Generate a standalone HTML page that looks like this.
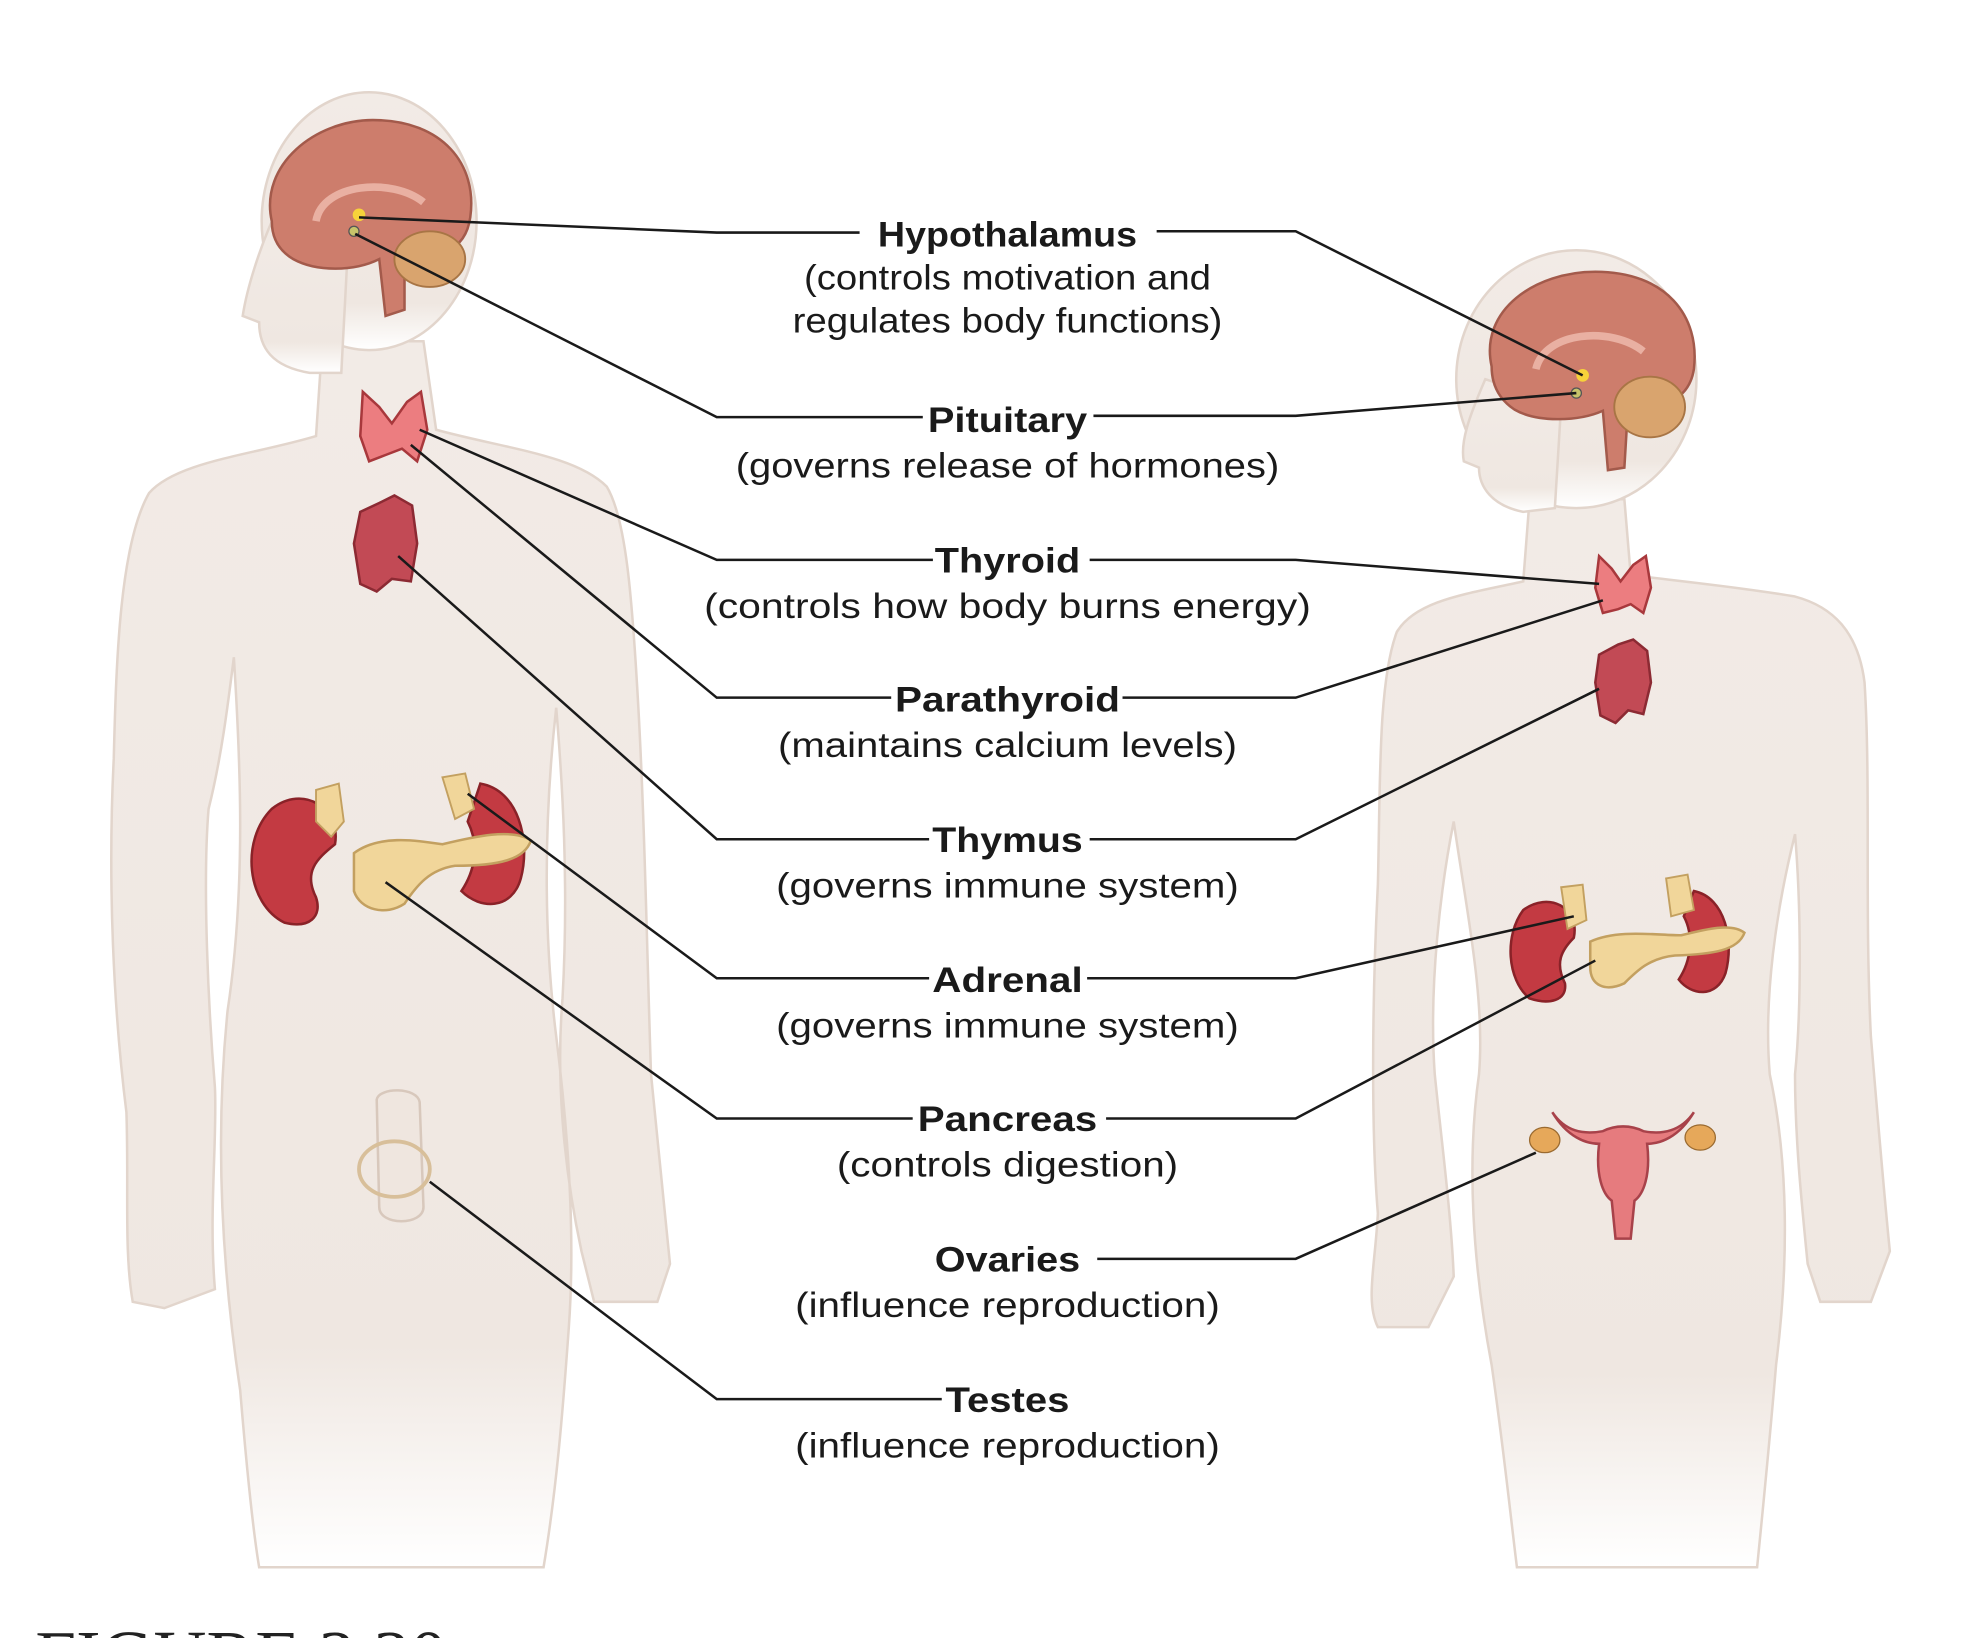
<!DOCTYPE html>
<html><head><meta charset="utf-8"><style>
html,body{margin:0;padding:0;background:#fff;width:1972px;height:1638px;overflow:hidden}
svg{display:block}
.b{font-family:"Liberation Sans",sans-serif;font-weight:bold;font-size:28px;fill:#1a1a1a}
.r{font-family:"Liberation Sans",sans-serif;font-size:28px;fill:#1a1a1a}
</style></head><body>
<svg width="1972" height="1638" viewBox="0 0 1560 1296" preserveAspectRatio="none" xmlns="http://www.w3.org/2000/svg">
<defs>
<linearGradient id="fade" x1="0" y1="0" x2="0" y2="1">
<stop offset="0" stop-color="#f2ebe6"/><stop offset="0.82" stop-color="#efe7e1"/><stop offset="1" stop-color="#ffffff"/>
</linearGradient>
</defs>
<g fill="url(#fade)" stroke="#e2d5cc" stroke-width="2">
<path d="M255,270 L250,345 C200,360 140,365 118,390 C95,430 92,520 90,600 C85,700 90,800 100,880 C102,940 98,990 105,1030 L130,1035 L170,1020 C165,960 172,900 170,860 C165,800 160,700 165,640 C175,600 180,560 185,520 C190,600 195,700 180,800 C170,900 175,1000 190,1100 C195,1160 200,1210 205,1240 L430,1240 C440,1180 445,1120 450,1050 C455,980 450,900 440,820 C430,740 430,650 440,560 C445,620 450,700 445,790 C440,850 445,920 460,990 L470,1030 L520,1030 L530,1000 C525,950 520,900 515,850 C512,760 510,650 505,560 C500,470 495,410 480,385 C455,360 400,355 345,340 L335,270 Z"/>
<ellipse cx="292" cy="175" rx="85" ry="102"/>
<path d="M222,160 C205,195 195,230 192,250 L205,255 C205,275 215,290 245,295 L270,295 L275,200 Z"/>
</g>
<g fill="url(#fade)" stroke="#e2d5cc" stroke-width="2">
<path d="M1210,395 L1205,460 C1160,470 1120,475 1105,500 C1090,540 1092,620 1090,700 C1085,800 1085,900 1090,960 C1088,1000 1080,1030 1090,1050 L1130,1050 L1150,1010 C1148,960 1140,900 1135,850 C1130,780 1140,700 1150,650 C1160,720 1175,790 1170,850 C1160,920 1165,1000 1180,1080 C1190,1150 1195,1200 1200,1240 L1390,1240 C1395,1190 1400,1140 1405,1080 C1415,1000 1415,920 1400,850 C1395,790 1405,720 1420,660 C1425,720 1425,800 1420,850 C1420,900 1425,950 1430,1000 L1440,1030 L1480,1030 L1495,990 C1490,940 1485,880 1480,820 C1475,720 1480,620 1475,540 C1470,500 1450,480 1420,472 C1380,465 1330,460 1290,455 L1285,395 Z"/>
<ellipse cx="1247" cy="300" rx="95" ry="102"/>
<path d="M1175,300 C1162,330 1155,350 1158,365 L1170,370 C1170,385 1180,400 1205,405 L1230,402 L1235,320 Z"/>
</g>
<path d="M215,175 C205,130 250,95 295,95 C350,95 378,130 372,172 C368,200 345,205 320,200 L320,245 L305,250 L300,205 C280,215 250,215 232,205 C220,198 215,188 215,175 Z" fill="#cd7d6c" stroke="#a35a4b" stroke-width="2"/>
<ellipse cx="340" cy="205" rx="28" ry="22" fill="#d9a46e" stroke="#a87545" stroke-width="1.5"/>
<path d="M250,175 C255,145 310,140 335,160" fill="none" stroke="#e9b0a2" stroke-width="6"/>
<circle cx="284" cy="170" r="5" fill="#f7d23a"/>
<circle cx="280" cy="183" r="4" fill="#c7c36a" stroke="#555" stroke-width="1"/>
<path d="M1180,290 C1170,245 1215,215 1262,215 C1318,215 1345,250 1340,292 C1336,318 1312,325 1288,320 L1285,370 L1272,372 L1268,325 C1248,334 1215,334 1198,324 C1186,316 1180,305 1180,290 Z" fill="#cd7d6c" stroke="#a35a4b" stroke-width="2"/>
<ellipse cx="1305" cy="322" rx="28" ry="24" fill="#d9a46e" stroke="#a87545" stroke-width="1.5"/>
<path d="M1215,292 C1222,262 1275,258 1300,278" fill="none" stroke="#e9b0a2" stroke-width="6"/>
<circle cx="1252" cy="297" r="5" fill="#f7d23a"/>
<circle cx="1247" cy="311" r="4" fill="#c7c36a" stroke="#555" stroke-width="1"/>
<path d="M287,310 L300,322 L310,335 L322,318 L333,310 L338,340 L330,365 L318,355 L305,360 L292,365 L285,345 Z" fill="#ec7d80" stroke="#a8383c" stroke-width="2"/>
<path d="M1265,440 L1275,450 L1282,460 L1292,447 L1302,440 L1306,465 L1300,485 L1290,478 L1280,482 L1268,485 L1262,465 Z" fill="#ec7d80" stroke="#a8383c" stroke-width="2"/>
<path d="M285,405 L300,398 L312,392 L326,400 L330,430 L325,460 L310,458 L298,468 L285,462 L280,430 Z" fill="#c24a55" stroke="#8c2a33" stroke-width="2"/>
<path d="M1265,518 L1280,510 L1292,506 L1303,515 L1306,540 L1300,565 L1288,562 L1278,572 L1266,566 L1262,540 Z" fill="#c24a55" stroke="#8c2a33" stroke-width="2"/>
<path d="M215,640 C240,620 270,640 265,668 C250,680 240,690 250,710 C255,725 245,735 225,730 C195,715 190,665 215,640 Z" fill="#c33a42" stroke="#8a2228" stroke-width="2"/>
<path d="M380,620 C410,625 420,665 412,695 C405,720 380,720 365,705 C375,690 380,670 370,650 Z" fill="#c33a42" stroke="#8a2228" stroke-width="2"/>
<path d="M250,625 L268,620 L272,650 L262,662 L250,650 Z" fill="#f1d69a" stroke="#c3a060" stroke-width="1.5"/>
<path d="M350,615 L368,612 L375,640 L360,648 Z" fill="#f1d69a" stroke="#c3a060" stroke-width="1.5"/>
<path d="M280,675 C300,660 330,665 350,668 C375,662 405,655 420,665 C415,680 395,685 360,685 C340,688 330,700 320,715 C305,725 285,720 280,705 Z" fill="#f1d69a" stroke="#c3a060" stroke-width="2"/>
<path d="M1205,720 C1225,705 1250,718 1245,742 C1235,752 1230,762 1238,778 C1240,792 1225,795 1210,790 C1192,775 1190,740 1205,720 Z" fill="#c33a42" stroke="#8a2228" stroke-width="2"/>
<path d="M1340,705 C1365,710 1372,745 1365,770 C1358,790 1338,788 1328,775 C1338,760 1340,740 1332,725 Z" fill="#c33a42" stroke="#8a2228" stroke-width="2"/>
<path d="M1235,702 L1252,700 L1255,728 L1240,735 Z" fill="#f1d69a" stroke="#c3a060" stroke-width="1.5"/>
<path d="M1318,695 L1335,692 L1340,720 L1322,725 Z" fill="#f1d69a" stroke="#c3a060" stroke-width="1.5"/>
<path d="M1258,745 C1280,735 1310,740 1330,740 C1350,735 1370,730 1380,738 C1375,752 1355,755 1325,756 C1305,758 1295,768 1285,778 C1270,785 1258,780 1258,765 Z" fill="#f1d69a" stroke="#c3a060" stroke-width="2"/>
<path d="M1228,880 C1240,900 1255,905 1265,905 C1262,930 1268,945 1275,950 L1278,980 L1290,980 L1293,950 C1300,945 1306,930 1303,905 C1313,905 1328,900 1340,880 C1330,895 1315,898 1300,895 C1290,890 1278,890 1268,895 C1252,898 1238,895 1228,880 Z" fill="#e67b7e" stroke="#a8424a" stroke-width="2"/>
<ellipse cx="1222" cy="902" rx="12" ry="10" fill="#e6a85a" stroke="#9a6a30"/>
<ellipse cx="1345" cy="900" rx="12" ry="10" fill="#e6a85a" stroke="#9a6a30"/>
<path d="M298,870 C300,860 330,860 332,872 L335,955 C335,970 300,970 300,955 Z" fill="#efe6df" stroke="#d8c8bc" stroke-width="2"/>
<ellipse cx="312" cy="925" rx="28" ry="22" fill="none" stroke="#d8bf9a" stroke-width="3"/>
<g fill="none" stroke="#1a1a1a" stroke-width="2">
<polyline points="284,172 567,184 680,184"/>
<polyline points="915,183 1025,183 1252,297"/>
<polyline points="281,185 567,330 730,330"/>
<polyline points="865,329 1025,329 1247,311"/>
<polyline points="332,340 567,443 738,443"/>
<polyline points="862,443 1025,443 1265,462"/>
<polyline points="325,352 567,552 705,552"/>
<polyline points="888,552 1025,552 1268,475"/>
<polyline points="315,440 567,664 735,664"/>
<polyline points="862,664 1025,664 1265,545"/>
<polyline points="370,628 567,774 735,774"/>
<polyline points="860,774 1025,774 1245,725"/>
<polyline points="305,698 567,885 722,885"/>
<polyline points="875,885 1025,885 1262,760"/>
<polyline points="868,996 1025,996 1215,912"/>
<polyline points="340,935 567,1107 745,1107"/>
</g>
<g text-anchor="middle">
<text class="b" x="797" y="195" textLength="205" lengthAdjust="spacingAndGlyphs">Hypothalamus</text>
<text class="r" x="797" y="229" textLength="322" lengthAdjust="spacingAndGlyphs">(controls motivation and</text>
<text class="r" x="797" y="263" textLength="340" lengthAdjust="spacingAndGlyphs">regulates body functions)</text>
<text class="b" x="797" y="342" textLength="126" lengthAdjust="spacingAndGlyphs">Pituitary</text>
<text class="r" x="797" y="378" textLength="430" lengthAdjust="spacingAndGlyphs">(governs release of hormones)</text>
<text class="b" x="797" y="453" textLength="115" lengthAdjust="spacingAndGlyphs">Thyroid</text>
<text class="r" x="797" y="489" textLength="480" lengthAdjust="spacingAndGlyphs">(controls how body burns energy)</text>
<text class="b" x="797" y="563" textLength="178" lengthAdjust="spacingAndGlyphs">Parathyroid</text>
<text class="r" x="797" y="599" textLength="363" lengthAdjust="spacingAndGlyphs">(maintains calcium levels)</text>
<text class="b" x="797" y="674" textLength="119" lengthAdjust="spacingAndGlyphs">Thymus</text>
<text class="r" x="797" y="710" textLength="366" lengthAdjust="spacingAndGlyphs">(governs immune system)</text>
<text class="b" x="797" y="785" textLength="119" lengthAdjust="spacingAndGlyphs">Adrenal</text>
<text class="r" x="797" y="821" textLength="366" lengthAdjust="spacingAndGlyphs">(governs immune system)</text>
<text class="b" x="797" y="895" textLength="142" lengthAdjust="spacingAndGlyphs">Pancreas</text>
<text class="r" x="797" y="931" textLength="270" lengthAdjust="spacingAndGlyphs">(controls digestion)</text>
<text class="b" x="797" y="1006" textLength="115" lengthAdjust="spacingAndGlyphs">Ovaries</text>
<text class="r" x="797" y="1042" textLength="336" lengthAdjust="spacingAndGlyphs">(influence reproduction)</text>
<text class="b" x="797" y="1117" textLength="98" lengthAdjust="spacingAndGlyphs">Testes</text>
<text class="r" x="797" y="1153" textLength="336" lengthAdjust="spacingAndGlyphs">(influence reproduction)</text>
</g>
<text x="28" y="1330" font-family="Liberation Serif,serif" font-size="58" fill="#222">FIGURE 3.30</text>
</svg>
</body></html>
